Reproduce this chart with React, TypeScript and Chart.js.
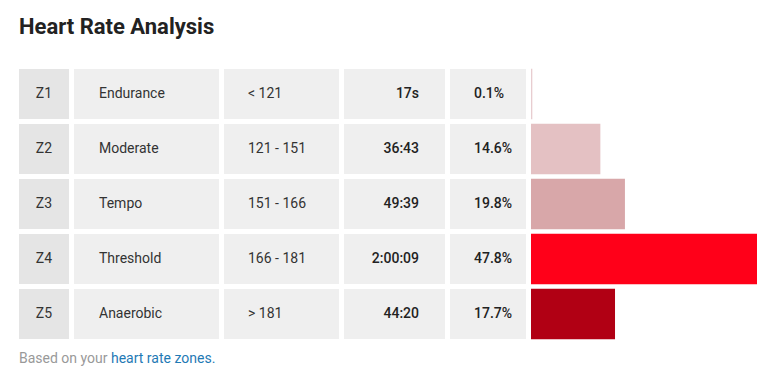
import React, { useEffect, useRef } from "react";
import { Chart, registerables } from "chart.js";

Chart.register(...registerables);

const zones = ["Z1", "Z2", "Z3", "Z4", "Z5"];
const zoneNames = ["Endurance", "Moderate", "Tempo", "Threshold", "Anaerobic"];
const hrRanges = ["< 121", "121 - 151", "151 - 166", "166 - 181", "> 181"];
const durations = ["17s", "36:43", "49:39", "2:00:09", "44:20"];
const percents = [0.1, 14.6, 19.8, 47.8, 17.7];
const barColors = ["#e8cdd0", "#e4c1c3", "#d8a7a9", "#ff0019", "#b10014"];

const FONT = "Roboto, 'Noto Sans', sans-serif";
const ROW_TOP = 69;
const ROW_H = 50;
const ROW_PITCH = 55;

type Col = { left: number; width: number; bg: string; align: "left" | "center" | "right"; pad: number; bold?: boolean };
const cols: Col[] = [
  { left: 19, width: 50, bg: "#e5e5e5", align: "center", pad: 0 },
  { left: 74, width: 145, bg: "#efefef", align: "left", pad: 25 },
  { left: 224, width: 115, bg: "#efefef", align: "left", pad: 24 },
  { left: 344, width: 101, bg: "#efefef", align: "right", pad: 26, bold: true },
  { left: 450, width: 76, bg: "#efefef", align: "left", pad: 24, bold: true },
];

export default function App() {
  const canvasRef = useRef<HTMLCanvasElement | null>(null);

  useEffect(() => {
    if (!canvasRef.current) return;
    const maxVal = Math.max(...percents);
    const chart = new Chart(canvasRef.current, {
      type: "bar",
      data: {
        labels: zones,
        datasets: [
          {
            data: percents,
            backgroundColor: barColors,
            borderWidth: 0,
            barThickness: 50,
            minBarLength: 1,
          },
        ],
      },
      options: {
        indexAxis: "y",
        animation: false,
        responsive: false,
        maintainAspectRatio: false,
        layout: { padding: { top: 6.5, bottom: 8.5, left: 0, right: 12 } },
        plugins: { legend: { display: false }, tooltip: { enabled: false } },
        scales: {
          x: { display: false, min: 0, max: maxVal, grid: { display: false } },
          y: { display: false, grid: { display: false } },
        },
      },
    });
    return () => chart.destroy();
  }, []);

  const cells: React.ReactNode[] = [];
  const rowsText = [zones, zoneNames, hrRanges, durations, percents.map((p) => p.toFixed(1) + "%")];
  for (let r = 0; r < zones.length; r++) {
    cols.forEach((c, ci) => {
      cells.push(
        <div
          key={r + "-" + ci}
          style={{
            position: "absolute",
            left: c.left,
            top: ROW_TOP + r * ROW_PITCH,
            width: c.width,
            height: ROW_H,
            background: c.bg,
            boxSizing: "border-box",
            display: "flex",
            alignItems: "center",
            justifyContent: c.align === "center" ? "center" : c.align === "right" ? "flex-end" : "flex-start",
            paddingLeft: c.align === "left" ? c.pad : 0,
            paddingRight: c.align === "right" ? c.pad : 0,
            paddingBottom: 2,
            fontSize: 14,
            fontWeight: c.bold ? 500 : 400,
            color: c.bold ? "#222" : "#333",
          }}
        >
          {rowsText[ci][r]}
        </div>
      );
    });
  }

  return (
    <div
      style={{
        position: "fixed",
        left: 0,
        top: 0,
        width: 769,
        height: 377,
        background: "#fff",
        fontFamily: FONT,
        overflow: "hidden",
      }}
    >
      <div
        style={{
          position: "absolute",
          left: 19,
          top: 13,
          fontSize: 22,
          fontWeight: 700,
          color: "#222",
          lineHeight: "28px",
        }}
      >
        Heart Rate Analysis
      </div>
      {cells}
      <canvas
        ref={canvasRef}
        width={238}
        height={290}
        style={{ position: "absolute", left: 531, top: 60, width: 238, height: 290 }}
      />
      <div
        style={{
          position: "absolute",
          left: 19,
          top: 349,
          fontSize: 14,
          lineHeight: "18px",
          color: "#999",
        }}
      >
        Based on your <span style={{ color: "#1f7ab5" }}>heart rate zones.</span>
      </div>
    </div>
  );
}
